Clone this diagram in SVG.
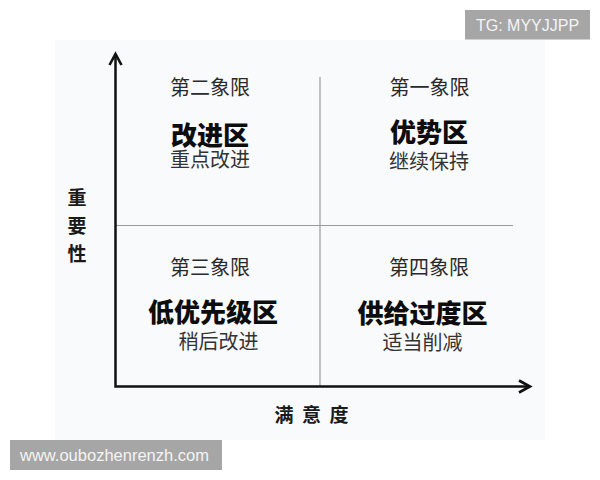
<svg xmlns="http://www.w3.org/2000/svg" width="600" height="480" viewBox="0 0 600 480">
  <style>
    .cjk { font-family: "Noto Sans CJK SC", "Noto Sans", sans-serif; }
    .ql { font-size: 20px; fill: #2a2a2a; text-anchor: middle; }
    .title { font-size: 26px; font-weight: 900; fill: #0d0d0d; text-anchor: middle; }
    .sub { font-size: 20px; fill: #333333; text-anchor: middle; }
    .axislabel { font-size: 19px; font-weight: 700; fill: #1a1a1a; }
    .axis { fill: none; stroke: #111111; stroke-width: 2.5; }
    .divider { fill: none; stroke: #9a9a9a; stroke-width: 1.2; }
    .wm { fill: #a6a6a6; }
    .wmtext { font-family: "Liberation Sans", Arial, sans-serif; fill: #f4f4f4; }
  </style>
  <defs>
    <marker id="arrow" markerUnits="userSpaceOnUse" viewBox="-15 -9 18 18" refX="0" refY="0" markerWidth="18" markerHeight="18" orient="auto-start-reverse">
      <path d="M-11,-6 L0,0 L-11,6" fill="none" stroke="#111111" stroke-width="2.6" stroke-linejoin="miter"/>
    </marker>
  </defs>

  <rect x="0" y="0" width="600" height="480" fill="#ffffff"/>
  <rect id="panel" x="55" y="40" width="490" height="400" fill="#f8fafc"/>

  <g id="connectors">
    <line class="divider" x1="320" y1="77" x2="320" y2="386"/>
    <line class="divider" x1="116" y1="225.5" x2="513" y2="225.5"/>
    <path class="axis" d="M115.5 54 V386.5 H530" marker-start="url(#arrow)" marker-end="url(#arrow)"/>
  </g>

  <g id="q2" class="cjk">
    <text class="ql" x="210" y="95">第二象限</text>
    <text class="title" x="210" y="145">改进区</text>
    <text class="sub" x="210" y="167">重点改进</text>
  </g>

  <g id="q1" class="cjk">
    <text class="ql" x="429.5" y="95">第一象限</text>
    <text class="title" x="429" y="142">优势区</text>
    <text class="sub" x="429" y="169">继续保持</text>
  </g>

  <g id="q3" class="cjk">
    <text class="ql" x="210" y="275">第三象限</text>
    <text class="title" x="213" y="322">低优先级区</text>
    <text class="sub" x="218.5" y="349">稍后改进</text>
  </g>

  <g id="q4" class="cjk">
    <text class="ql" x="429" y="274.5">第四象限</text>
    <text class="title" x="422.5" y="323">供给过度区</text>
    <text class="sub" x="422.5" y="350">适当削减</text>
  </g>

  <g id="y-label" class="cjk">
    <text class="axislabel" x="77" y="205" text-anchor="middle">重</text>
    <text class="axislabel" x="77" y="233" text-anchor="middle">要</text>
    <text class="axislabel" x="77" y="261" text-anchor="middle">性</text>
  </g>

  <g id="x-label" class="cjk">
    <text class="axislabel" x="274.5" y="422" letter-spacing="8.5">满意度</text>
  </g>

  <g id="watermark-tg">
    <rect class="wm" x="465" y="10" width="125" height="29.5"/>
    <text class="wmtext" x="476" y="30.5" font-size="16">TG: MYYJJPP</text>
  </g>

  <g id="watermark-www">
    <rect class="wm" x="10" y="440" width="212" height="30"/>
    <text class="wmtext" x="20" y="461" font-size="16.5">www.oubozhenrenzh.com</text>
  </g>
</svg>
